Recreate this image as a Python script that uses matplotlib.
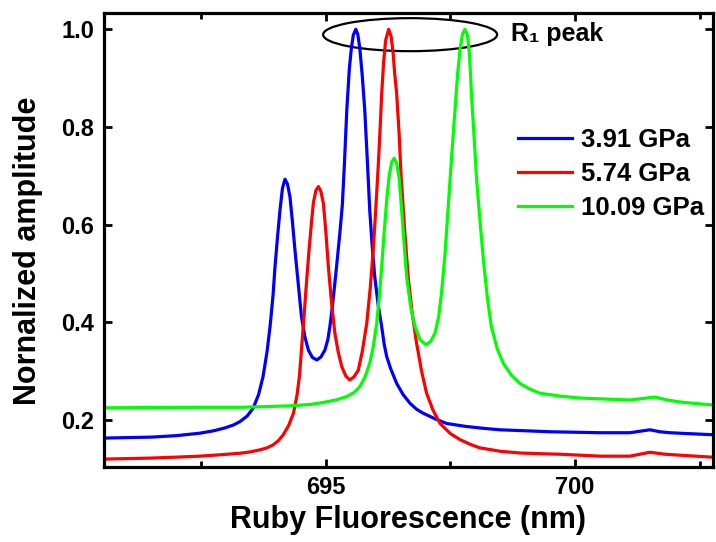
import matplotlib
matplotlib.use("Agg")
import matplotlib.pyplot as plt
from matplotlib.patches import Ellipse

plt.rcParams["font.family"] = ["Liberation Sans", "DejaVu Sans"]
plt.rcParams["font.weight"] = "bold"

# wavelength (nm) / normalized amplitude
x_391 = [690.55, 691.00, 691.50, 692.00, 692.47, 692.75, 692.98, 693.15, 693.28,
         693.42, 693.54, 693.65, 693.74, 693.82, 693.88, 693.94, 693.98, 694.03,
         694.08, 694.13, 694.18, 694.23, 694.28, 694.33, 694.38, 694.45, 694.51,
         694.58, 694.65, 694.73, 694.82, 694.90, 694.98, 695.04, 695.08, 695.13,
         695.18, 695.23, 695.28, 695.33, 695.37, 695.42, 695.47, 695.51, 695.55,
         695.60, 695.64, 695.68, 695.73, 695.78, 695.83, 695.88, 695.93, 695.98,
         696.05, 696.12, 696.17, 696.22, 696.30, 696.42, 696.55, 696.69, 696.82,
         696.95, 697.20, 697.42, 697.80, 698.16, 698.49, 699.00, 699.49, 700.00,
         700.50, 701.10, 701.30, 701.50, 701.70, 701.90, 702.30, 702.74]
y_391 = [0.163, 0.164, 0.165, 0.168, 0.173, 0.178, 0.184, 0.190, 0.197,
         0.208, 0.224, 0.252, 0.289, 0.340, 0.391, 0.455, 0.514, 0.575,
         0.630, 0.675, 0.693, 0.683, 0.657, 0.605, 0.548, 0.475, 0.412,
         0.370, 0.343, 0.328, 0.323, 0.329, 0.343, 0.365, 0.391, 0.432,
         0.480, 0.530, 0.582, 0.640, 0.720, 0.835, 0.918, 0.960, 0.988,
         1.000, 0.990, 0.962, 0.905, 0.835, 0.735, 0.630, 0.555, 0.494,
         0.435, 0.391, 0.355, 0.330, 0.305, 0.275, 0.252, 0.234, 0.222,
         0.214, 0.202, 0.193, 0.187, 0.183, 0.180, 0.178, 0.176, 0.175,
         0.174, 0.174, 0.177, 0.180, 0.176, 0.174, 0.172, 0.170]

x_574 = [690.55, 691.00, 691.47, 692.00, 692.47, 692.90, 693.28, 693.50, 693.68,
         693.82, 693.94, 694.05, 694.14, 694.25, 694.35, 694.42, 694.47, 694.51,
         694.56, 694.61, 694.66, 694.71, 694.75, 694.80, 694.85, 694.90, 694.95,
         695.00, 695.05, 695.11, 695.18, 695.25, 695.32, 695.40, 695.48, 695.56,
         695.65, 695.73, 695.82, 695.89, 695.95, 696.00, 696.05, 696.09, 696.12,
         696.16, 696.20, 696.26, 696.31, 696.35, 696.38, 696.42, 696.47, 696.51,
         696.58, 696.65, 696.73, 696.82, 696.92, 697.02, 697.15, 697.29, 697.50,
         697.69, 697.90, 698.09, 698.50, 698.89, 699.30, 699.69, 700.10, 700.50,
         701.10, 701.30, 701.50, 701.80, 702.10, 702.74]
y_574 = [0.120, 0.121, 0.122, 0.124, 0.126, 0.129, 0.132, 0.135, 0.139,
         0.143, 0.149, 0.158, 0.169, 0.188, 0.214, 0.250, 0.290, 0.343,
         0.410, 0.480, 0.545, 0.603, 0.645, 0.670, 0.678, 0.668, 0.644,
         0.585, 0.514, 0.445, 0.378, 0.338, 0.309, 0.290, 0.282, 0.288,
         0.302, 0.340, 0.398, 0.470, 0.548, 0.630, 0.719, 0.800, 0.869,
         0.935, 0.978, 1.000, 0.985, 0.950, 0.910, 0.869, 0.785, 0.698,
         0.590, 0.494, 0.420, 0.357, 0.300, 0.255, 0.220, 0.193, 0.172,
         0.160, 0.150, 0.143, 0.136, 0.1325, 0.131, 0.130, 0.128, 0.126,
         0.126, 0.130, 0.134, 0.130, 0.128, 0.124]

x_1009 = [690.55, 691.50, 692.50, 693.28, 694.28, 694.70, 694.95, 695.20, 695.42,
          695.56, 695.68, 695.78, 695.88, 695.95, 696.02, 696.07, 696.12, 696.17,
          696.22, 696.27, 696.32, 696.37, 696.42, 696.47, 696.52, 696.57, 696.62,
          696.70, 696.79, 696.89, 697.01, 697.10, 697.19, 697.26, 697.32, 697.39,
          697.45, 697.52, 697.59, 697.64, 697.69, 697.74, 697.79, 697.84, 697.88,
          697.92, 697.97, 698.02, 698.09, 698.16, 698.24, 698.32, 698.44, 698.56,
          698.72, 698.89, 699.10, 699.29, 699.70, 700.10, 700.60, 701.10, 701.35,
          701.60, 701.85, 702.10, 702.40, 702.74]
y_1009 = [0.225, 0.2255, 0.226, 0.226, 0.229, 0.232, 0.236, 0.241, 0.248,
          0.256, 0.268, 0.287, 0.316, 0.350, 0.398, 0.450, 0.514, 0.585,
          0.650, 0.700, 0.728, 0.736, 0.726, 0.695, 0.630, 0.560, 0.494,
          0.432, 0.391, 0.364, 0.354, 0.361, 0.378, 0.410, 0.460, 0.540,
          0.630, 0.735, 0.835, 0.905, 0.958, 0.990, 1.000, 0.988, 0.950,
          0.869, 0.785, 0.698, 0.610, 0.528, 0.450, 0.391, 0.345, 0.316,
          0.292, 0.275, 0.263, 0.255, 0.249, 0.245, 0.243, 0.241, 0.244,
          0.247, 0.241, 0.237, 0.234, 0.231]

labels = ["3.91 GPa", "5.74 GPa", "10.09 GPa"]
colors = ["#0000ff", "#ff0000", "#00ff00"]


def main():
    fig = plt.figure(figsize=(7.16, 5.42), dpi=100)
    ax = fig.add_axes([0.1453, 0.1389, 0.8501, 0.8377])

    for xs, ys, lab, c in zip([x_391, x_574, x_1009], [y_391, y_574, y_1009],
                              labels, colors):
        ax.plot(xs, ys, color=c, lw=2.3, label=lab, solid_joinstyle="round")

    # circle the R1 peaks
    ax.add_patch(Ellipse((696.69, 0.989), 3.49, 0.0676, fill=False,
                         edgecolor="black", lw=1.6))
    ax.text(698.72, 0.990, "R\u2081 peak", fontsize=18, fontweight="bold",
            va="center", ha="left")

    ax.set_xlim(690.55, 702.76)
    ax.set_ylim(0.1044, 1.034)
    ax.set_xticks([695, 700])
    ax.set_xticks([692.5, 697.5, 702.5], minor=True)
    ax.set_yticks([0.2, 0.4, 0.6, 0.8, 1.0])
    ax.set_yticklabels(["0.2", "0.4", "0.6", "0.8", "1.0"])

    ax.tick_params(which="both", direction="in", top=True, right=True,
                   width=2, labelsize=17)
    ax.tick_params(which="major", length=6)
    ax.tick_params(which="minor", length=4)
    ax.tick_params(axis="x", pad=7)
    ax.tick_params(axis="y", pad=7)
    for s in ax.spines.values():
        s.set_linewidth(2.3)

    ax.set_xlabel("Ruby Fluorescence (nm)", fontsize=22, fontweight="bold",
                  labelpad=4)
    ax.set_ylabel("Nornalized amplitude", fontsize=22, fontweight="bold")
    ax.yaxis.set_label_coords(-0.100, 0.475)

    ax.legend(loc="upper left", bbox_to_anchor=(0.680, 0.745), frameon=False,
              fontsize=18.5, handlelength=2.1, handletextpad=0.35,
              labelspacing=0.38, borderpad=0, borderaxespad=0)

    return fig, ax


if __name__ == "__main__":
    fig, _ = main()
    fig.savefig("out.png", dpi=100)
